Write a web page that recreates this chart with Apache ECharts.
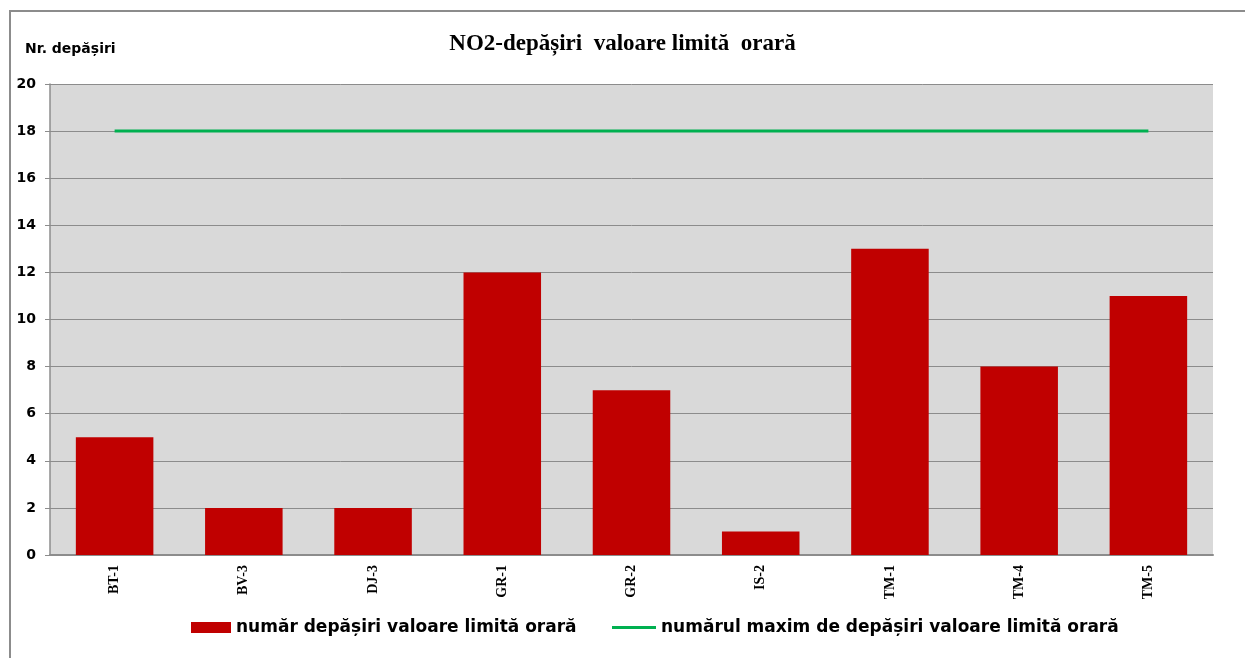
<!DOCTYPE html>
<html>
<head>
<meta charset="utf-8">
<script src="https://cdn.jsdelivr.net/npm/echarts@6/dist/echarts.min.js"></script>
<style>
  html, body { margin: 0; padding: 0; background: #fff; overflow: hidden; }
  #main { position: absolute; left: 0; top: 0; width: 1245px; height: 658px; }
  #frame {
    position: absolute; left: 9px; top: 10px; width: 1260px; height: 700px;
    border-left: 2px solid #8c8c8c; border-top: 2px solid #8c8c8c; pointer-events: none;
  }
</style>
</head>
<body>
<div id="main"></div>
<div id="frame"></div>
<script>
const stations = ['BT-1', 'BV-3', 'DJ-3', 'GR-1', 'GR-2', 'IS-2', 'TM-1', 'TM-4', 'TM-5'];
const exceedances = [5, 2, 2, 12, 7, 1, 13, 8, 11];
const maxAllowed = [18, 18, 18, 18, 18, 18, 18, 18, 18];

const barName = 'număr depășiri valoare limită orară';
const lineName = 'numărul maxim de depășiri valoare limită orară';

const legendText = { fontFamily: 'DejaVu Sans', fontWeight: 'bold', fontSize: 17, color: '#000' };

const myChart = echarts.init(document.getElementById('main'));

const option = {
  animation: false,
  title: [
    {
      text: 'NO2-depășiri  valoare limită  orară',
      left: 'center',
      top: 28,
      textStyle: { fontFamily: 'Liberation Serif', fontWeight: 'bold', fontSize: 23, color: '#000' }
    },
    {
      text: 'Nr. depășiri',
      left: 20,
      top: 37,
      textStyle: { fontFamily: 'DejaVu Sans', fontWeight: 'bold', fontSize: 14, color: '#000' }
    }
  ],
  legend: [
    {
      data: [{ name: barName, icon: 'rect' }],
      left: 186,
      top: 614,
      itemWidth: 40,
      itemHeight: 11,
      textStyle: legendText
    },
    {
      data: [{ name: lineName, icon: 'rect' }],
      left: 607,
      top: 614,
      itemWidth: 44,
      itemHeight: 3,
      textStyle: legendText
    }
  ],
  grid: {
    left: 50,
    right: 32,
    top: 84,
    bottom: 103,
    show: true,
    backgroundColor: '#d9d9d9',
    borderWidth: 0
  },
  xAxis: {
    type: 'category',
    data: stations,
    axisLine: { lineStyle: { color: '#8c8c8c', width: 2 } },
    axisTick: { show: false },
    axisLabel: {
      rotate: 90,
      margin: 10,
      fontFamily: 'Liberation Serif',
      fontWeight: 'bold',
      fontSize: 14,
      color: '#000'
    }
  },
  yAxis: {
    type: 'value',
    min: 0,
    max: 20,
    interval: 2,
    axisLine: { show: true, lineStyle: { color: '#8c8c8c', width: 1.5 } },
    axisTick: { show: true, length: 5, lineStyle: { color: '#8c8c8c' } },
    splitLine: { lineStyle: { color: '#8c8c8c', width: 1 } },
    axisLabel: {
      margin: 14,
      fontFamily: 'DejaVu Sans',
      fontWeight: 'bold',
      fontSize: 14,
      color: '#000'
    }
  },
  series: [
    {
      name: barName,
      type: 'bar',
      data: exceedances,
      barWidth: '60%',
      itemStyle: { color: '#c00000' }
    },
    {
      name: lineName,
      type: 'line',
      data: maxAllowed,
      symbol: 'none',
      lineStyle: { color: '#00b050', width: 3 },
      itemStyle: { color: '#00b050' }
    }
  ]
};

myChart.setOption(option);
</script>
</body>
</html>
